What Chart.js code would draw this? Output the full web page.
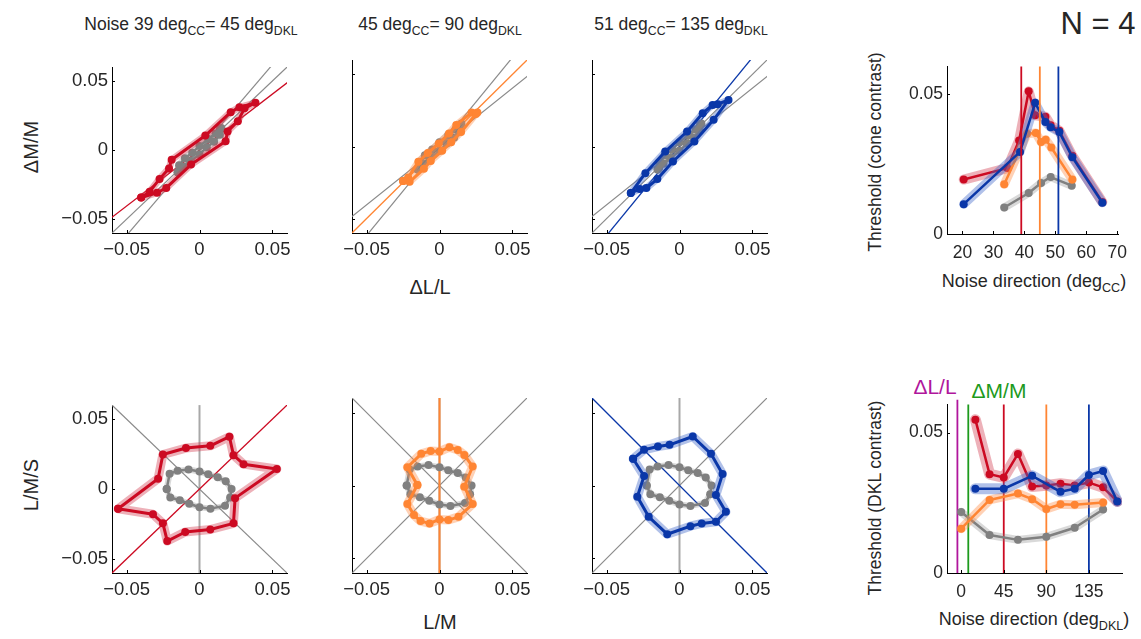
<!DOCTYPE html>
<html>
<head>
<meta charset="utf-8">
<script src="https://cdn.jsdelivr.net/npm/chart.js@4.4.0/dist/chart.umd.min.js"></script>
<style>
body{margin:0;background:#fff;width:1141px;height:639px;overflow:hidden;position:relative;font-family:"Liberation Sans",Arial,sans-serif;color:#262626}
canvas{position:absolute}
.t{position:absolute;white-space:nowrap;transform:translate(-50%,-50%);line-height:1}
.r{transform:translate(-50%,-50%) rotate(-90deg)}
.t sub{font-size:70%;vertical-align:-0.4em;line-height:0}
</style>
</head>
<body>
<div class="t" style="left:191px;top:25px;font-size:17.5px">Noise 39 deg<sub>CC</sub>= 45 deg<sub>DKL</sub></div>
<div class="t" style="left:440px;top:25px;font-size:17.5px">45 deg<sub>CC</sub>= 90 deg<sub>DKL</sub></div>
<div class="t" style="left:681px;top:25px;font-size:17.5px">51 deg<sub>CC</sub>= 135 deg<sub>DKL</sub></div>
<div class="t" style="left:1098px;top:23px;font-size:31px">N = 4</div>
<div class="t" style="left:430px;top:287px;font-size:20px">&Delta;L/L</div>
<div class="t" style="left:440px;top:622px;font-size:20px">L/M</div>
<div class="t r" style="left:31px;top:147px;font-size:20px">&Delta;M/M</div>
<div class="t r" style="left:31px;top:485px;font-size:20px">L/M/S</div>
<div class="t r" style="left:876px;top:152px;font-size:17.5px">Threshold (cone contrast)</div>
<div class="t r" style="left:876px;top:498px;font-size:17.5px">Threshold (DKL contrast)</div>
<div class="t" style="left:1034px;top:281px;font-size:18px">Noise direction (deg<sub>CC</sub>)</div>
<div class="t" style="left:1034px;top:619px;font-size:18px">Noise direction (deg<sub>DKL</sub>)</div>
<div class="t" style="left:935px;top:386px;font-size:21px;color:#b0169c">&Delta;L/L</div>
<div class="t" style="left:999px;top:390px;font-size:21px;color:#1d9a1d">&Delta;M/M</div>
<script>
Chart.defaults.font.family = '"Liberation Sans", Arial, sans-serif';

// noise directions
const noiseCC = [39, 45, 51];
const noiseDKL = [45, 90, 135];
const axisDKL = [-4, 7.5]; // dL/L and dM/M directions in DKL

// tick labels
const pairTicks = [-0.05, 0, 0.05];
const thrTicks = [0, 0.05];
const ccDirTicks = [20, 30, 40, 50, 60, 70];
const dklDirTicks = [0, 45, 90, 135];

// threshold contours in cone contrast (dL/L, dM/M)
const ccGray = [[-0.015,-0.016],[-0.014,-0.011],[-0.010,-0.006],[-0.005,-0.002],[0.000,0.003],[0.006,0.008],[0.011,0.012],[0.014,0.015],
  [0.015,0.016],[0.014,0.011],[0.010,0.006],[0.005,0.002],[0.000,-0.003],[-0.006,-0.008],[-0.011,-0.012],[-0.014,-0.015]];
const ccRed = [[-0.0400,-0.0344],[-0.0342,-0.0302],[-0.0274,-0.0209],[-0.0209,-0.0133],[-0.0191,-0.0070],[0.0040,0.0105],[0.0214,0.0274],[0.0274,0.0309],
  [0.0384,0.0342],[0.0309,0.0302],[0.0263,0.0209],[0.0193,0.0135],[0.0179,0.0063],[-0.0058,-0.0105],[-0.0228,-0.0274],[-0.0291,-0.0309]];
const ccOrange = [[-0.0250,-0.0240],[-0.0215,-0.0215],[-0.0145,-0.0105],[-0.0080,-0.0045],[-0.0005,0.0020],[0.0065,0.0090],[0.0115,0.0150],[0.0220,0.0235],
  [0.0260,0.0235],[0.0250,0.0225],[0.0148,0.0100],[0.0080,0.0030],[0.0018,-0.0030],[-0.0060,-0.0100],[-0.0107,-0.0155],[-0.0205,-0.0245]];
const ccBlue = [[-0.0334,-0.0323],[-0.0234,-0.0185],[-0.0098,-0.0035],[0.0052,0.0104],[0.0159,0.0231],[0.0227,0.0288],[0.0261,0.0293],
  [0.0336,0.0323],[0.0234,0.0185],[0.0102,0.0035],[-0.0045,-0.0104],[-0.0152,-0.0226],[-0.0227,-0.0288],[-0.0273,-0.0295]];

// threshold contours in DKL (L/M, L/M/S)
const dklGray = [[-0.0225,0.0000],[-0.0200,-0.0060],[-0.0135,-0.0080],[-0.0070,-0.0105],[0.0000,-0.0130],[0.0075,-0.0140],[0.0175,-0.0120],[0.0210,-0.0060],
  [0.0220,0.0000],[0.0180,0.0055],[0.0125,0.0085],[0.0060,0.0105],[0.0000,0.0125],[-0.0075,0.0140],[-0.0150,0.0130],[-0.0205,0.0110]];
const dklRed = [[-0.0558,-0.0141],[-0.0319,-0.0180],[-0.0251,-0.0245],[-0.0221,-0.0372],[-0.0098,-0.0307],[0.0074,-0.0289],[0.0233,-0.0245],[0.0244,-0.0065],
  [0.0530,0.0143],[0.0302,0.0178],[0.0233,0.0242],[0.0205,0.0374],[0.0074,0.0309],[-0.0093,0.0293],[-0.0251,0.0247],[-0.0284,0.0074]];
const dklOrange = [[-0.0152,0.0003],[-0.0220,0.0125],[-0.0125,0.0217],[-0.0061,0.0237],[0.0000,0.0233],[0.0068,0.0263],[0.0125,0.0244],[0.0170,0.0210],
  [0.0227,0.0130],[0.0170,-0.0008],[0.0227,-0.0127],[0.0130,-0.0215],[0.0061,-0.0237],[0.0000,-0.0233],[-0.0068,-0.0260],[-0.0130,-0.0244],[-0.0175,-0.0203],[-0.0220,-0.0127]];
const dklBlue = [[-0.0318,0.0183],[-0.0243,0.0245],[-0.0148,0.0267],[-0.0068,0.0279],[0.0091,0.0336],[0.0216,0.0217],[0.0295,0.0079],[0.0250,-0.0065],
  [0.0318,-0.0180],[0.0250,-0.0249],[0.0152,-0.0260],[0.0075,-0.0279],[-0.0084,-0.0334],[-0.0211,-0.0215],[-0.0289,-0.0077],[-0.0243,0.0065]];

// thresholds vs noise direction (cone contrast)
const ccDirRed = [20.4, 34.5, 38.3, 41.4, 43.5, 46.8, 48.5, 51.3, 55.5, 65.2];
const ccThrRed = [0.0195, 0.0236, 0.0335, 0.0511, 0.0425, 0.0420, 0.0390, 0.0370, 0.0280, 0.0115];
const ccDirOrange = [33.5, 40.9, 43.7, 45.4, 46.9, 48.7, 55.5];
const ccThrOrange = [0.0178, 0.0359, 0.0362, 0.0330, 0.0338, 0.0310, 0.0195];
const ccDirBlue = [20.4, 38.6, 43.5, 46.8, 48.5, 51.3, 55.5, 65.2];
const ccThrBlue = [0.0107, 0.0294, 0.0470, 0.0401, 0.0382, 0.0365, 0.0275, 0.0112];
const ccDirGray = [33.5, 41.4, 45.4, 48.5, 55.3];
const ccThrGray = [0.0095, 0.0147, 0.0183, 0.0204, 0.0173];

// thresholds vs noise direction (DKL)
const dklDirRed = [15, 30, 45, 60, 75, 90, 105, 120, 135, 150, 165];
const dklThrRed = [0.0546, 0.0352, 0.0340, 0.0424, 0.0308, 0.0312, 0.0318, 0.0312, 0.0322, 0.0305, 0.0255];
const dklDirOrange = [0, 30, 60, 75, 90, 105, 120, 150];
const dklThrOrange = [0.0158, 0.0260, 0.0283, 0.0263, 0.0228, 0.0245, 0.0243, 0.0251];
const dklDirBlue = [15, 45, 75, 105, 120, 135, 150, 165];
const dklThrBlue = [0.0300, 0.0300, 0.0346, 0.0289, 0.0300, 0.0349, 0.0363, 0.0255];
const dklDirGray = [0, 30, 60, 90, 120, 150];
const dklThrGray = [0.0217, 0.0135, 0.0118, 0.0129, 0.0161, 0.0226];

const col = {red: '#cc0a22', orange: '#ff8533', blue: '#0a37a8', gray: '#808080'};
const band = {red: 'rgba(210,60,80,0.4)', orange: 'rgba(255,140,70,0.4)', blue: 'rgba(60,100,200,0.4)', gray: 'rgba(128,128,128,0.3)'};
const hue = ['red', 'orange', 'blue'];

const fmt = v => (v < 0 ? '\u2212' + (-v) : String(v));

const inTicks = {
    id: 'inTicks',
    afterDraw(c) {
        const ctx = c.ctx, a = c.chartArea;
        ctx.save();
        ctx.strokeStyle = '#000';
        ctx.lineWidth = 1;
        ctx.beginPath();
        c.scales.x.ticks.forEach(t => {
            const px = Math.round(c.scales.x.getPixelForValue(t.value)) + 0.5;
            ctx.moveTo(px, a.bottom); ctx.lineTo(px, a.bottom - 3);
        });
        c.scales.y.ticks.forEach(t => {
            const py = Math.round(c.scales.y.getPixelForValue(t.value)) + 0.5;
            ctx.moveTo(a.left, py); ctx.lineTo(a.left + 3, py);
        });
        ctx.stroke();
        ctx.restore();
    }
};

function pts(arr, close) {
    const d = arr.map(p => ({x: p[0], y: p[1]}));
    if (close) d.push(d[0]);
    return d;
}
function xy(xs, ys) { return xs.map((x, i) => ({x: x, y: ys[i]})); }

function bandSet(data, c, w) {
    return {data: data, showLine: true, borderColor: band[c], borderWidth: w, pointRadius: 0,
        borderJoinStyle: 'round', borderCapStyle: 'round'};
}
function lineSet(data, c, w, r) {
    return {data: data, showLine: true, borderColor: col[c], backgroundColor: col[c], borderWidth: w,
        pointRadius: r, pointBorderWidth: 0, pointBackgroundColor: col[c], borderJoinStyle: 'round'};
}
function ray(deg, color, w) {
    const a = deg * Math.PI / 180, R = 0.2;
    return {data: [{x: -R * Math.cos(a), y: -R * Math.sin(a)}, {x: R * Math.cos(a), y: R * Math.sin(a)}],
        showLine: true, borderColor: color, borderWidth: w, pointRadius: 0};
}
function vline(x, y0, y1, color, w) {
    return {data: [{x: x, y: y0}, {x: x, y: y1}], showLine: true, borderColor: color, borderWidth: w, pointRadius: 0, clip: false};
}

// datasets are listed bottom to top
function panel(p) {
    const W = 60, PT = 8, PR = 14, H = 40;
    const cv = document.createElement('canvas');
    cv.width = W + p.w + PR;
    cv.height = PT + p.h + H;
    cv.style.left = (p.left - W) + 'px';
    cv.style.top = (p.top - PT) + 'px';
    document.body.appendChild(cv);
    const tickFont = {size: p.fs};
    new Chart(cv, {
        type: 'scatter',
        data: {datasets: p.sets.slice().reverse()},
        options: {
            responsive: false,
            animation: false,
            events: [],
            layout: {padding: {top: PT, right: PR, left: 0, bottom: 0}},
            plugins: {legend: {display: false}, tooltip: {enabled: false}},
            scales: {
                x: {
                    type: 'linear', min: p.xr[0], max: p.xr[1],
                    afterFit: s => { s.height = H; },
                    afterBuildTicks: s => { s.ticks = p.xt.map(v => ({value: v})); },
                    grid: {display: true, drawOnChartArea: false, drawTicks: false},
                    border: {display: true, color: '#000', width: 1},
                    ticks: {padding: p.xpad, font: tickFont, color: '#262626', maxRotation: 0, autoSkip: false, callback: fmt}
                },
                y: {
                    type: 'linear', min: p.yr[0], max: p.yr[1],
                    afterFit: s => { s.width = W; },
                    afterBuildTicks: s => { s.ticks = p.yt.map(v => ({value: v})); },
                    grid: {display: true, drawOnChartArea: false, drawTicks: false},
                    border: {display: true, color: '#000', width: 1},
                    ticks: {display: p.showY, padding: 4, font: tickFont, color: '#262626', autoSkip: false, callback: fmt}
                }
            }
        },
        plugins: [inTicks]
    });
}

const ccLoops = [ccRed, ccOrange, ccBlue];
const dklLoops = [dklRed, dklOrange, dklBlue];
const colLeft = [112, 352, 592];

// top row: cone contrast plane
colLeft.forEach((left, k) => {
    const sets = [];
    noiseCC.forEach((d, j) => { if (j !== k) sets.push(ray(d, '#8a8a8a', 1.2)); });
    sets.push(ray(noiseCC[k], col[hue[k]], 1.3));
    sets.push(bandSet(pts(ccGray, true), 'gray', 7));
    sets.push(lineSet(pts(ccGray, true), 'gray', 2.5, 4));
    sets.push(bandSet(pts(ccLoops[k], true), hue[k], 7));
    sets.push(lineSet(pts(ccLoops[k], true), hue[k], 3, 4));
    panel({left: left, top: 60, w: 175, h: 173, xr: [-0.06, 0.06], yr: [-0.06, 0.06],
        xt: pairTicks, yt: pairTicks, showY: k === 0, fs: 18.5, xpad: 6, sets: sets});
});

// bottom row: DKL plane
colLeft.forEach((left, k) => {
    const sets = [];
    sets.push(vline(0, -0.06, 0.06, '#a8a8a8', 2));
    noiseDKL.forEach((d, j) => { if (j !== k && d !== 90) sets.push(ray(d, '#8a8a8a', 1.2)); });
    sets.push(ray(noiseDKL[k], col[hue[k]], k === 1 ? 2 : 1.3));
    sets.push(bandSet(pts(dklGray, true), 'gray', 6));
    sets.push(lineSet(pts(dklGray, true), 'gray', 2.5, 4));
    sets.push(bandSet(pts(dklLoops[k], true), hue[k], 9));
    sets.push(lineSet(pts(dklLoops[k], true), hue[k], 3, 4));
    panel({left: left, top: 398, w: 175, h: 175, xr: [-0.06, 0.06], yr: [-0.06, 0.06],
        xt: pairTicks, yt: pairTicks, showY: k === 0, fs: 18.5, xpad: 6, sets: sets});
});

// right top: threshold vs noise direction in cone contrast
panel({left: 947, top: 60, w: 175, h: 174, xr: [15, 70.3], yr: [0, 0.06], xt: ccDirTicks, yt: thrTicks,
    showY: true, fs: 17.5, xpad: 9, sets: [
        bandSet(xy(ccDirGray, ccThrGray), 'gray', 8),
        lineSet(xy(ccDirGray, ccThrGray), 'gray', 2.5, 4),
        bandSet(xy(ccDirRed, ccThrRed), 'red', 10),
        lineSet(xy(ccDirRed, ccThrRed), 'red', 2.5, 4),
        bandSet(xy(ccDirOrange, ccThrOrange), 'orange', 9),
        lineSet(xy(ccDirOrange, ccThrOrange), 'orange', 2.5, 4),
        bandSet(xy(ccDirBlue, ccThrBlue), 'blue', 9),
        lineSet(xy(ccDirBlue, ccThrBlue), 'blue', 2.5, 4),
        vline(noiseCC[0], 0, 0.06, col.red, 1.8),
        vline(noiseCC[1], 0, 0.06, col.orange, 1.8),
        vline(noiseCC[2], 0, 0.06, col.blue, 1.8)
    ]});

// right bottom: threshold vs noise direction in DKL
panel({left: 947, top: 398, w: 175, h: 175, xr: [-15, 170], yr: [0, 0.06], xt: dklDirTicks, yt: thrTicks,
    showY: true, fs: 17.5, xpad: 9, sets: [
        vline(axisDKL[0], 0, 0.0617, '#b0169c', 1.8),
        vline(axisDKL[1], 0, 0.06, '#1d9a1d', 1.8),
        vline(noiseDKL[0], 0, 0.06, col.red, 1.8),
        vline(noiseDKL[1], 0, 0.06, col.orange, 1.8),
        vline(noiseDKL[2], 0, 0.06, col.blue, 1.8),
        bandSet(xy(dklDirGray, dklThrGray), 'gray', 8),
        lineSet(xy(dklDirGray, dklThrGray), 'gray', 2.5, 4),
        bandSet(xy(dklDirOrange, dklThrOrange), 'orange', 9),
        lineSet(xy(dklDirOrange, dklThrOrange), 'orange', 2.5, 4),
        bandSet(xy(dklDirRed, dklThrRed), 'red', 11),
        lineSet(xy(dklDirRed, dklThrRed), 'red', 2.5, 4),
        bandSet(xy(dklDirBlue, dklThrBlue), 'blue', 11),
        lineSet(xy(dklDirBlue, dklThrBlue), 'blue', 2.5, 4)
    ]});
</script>
</body>
</html>
